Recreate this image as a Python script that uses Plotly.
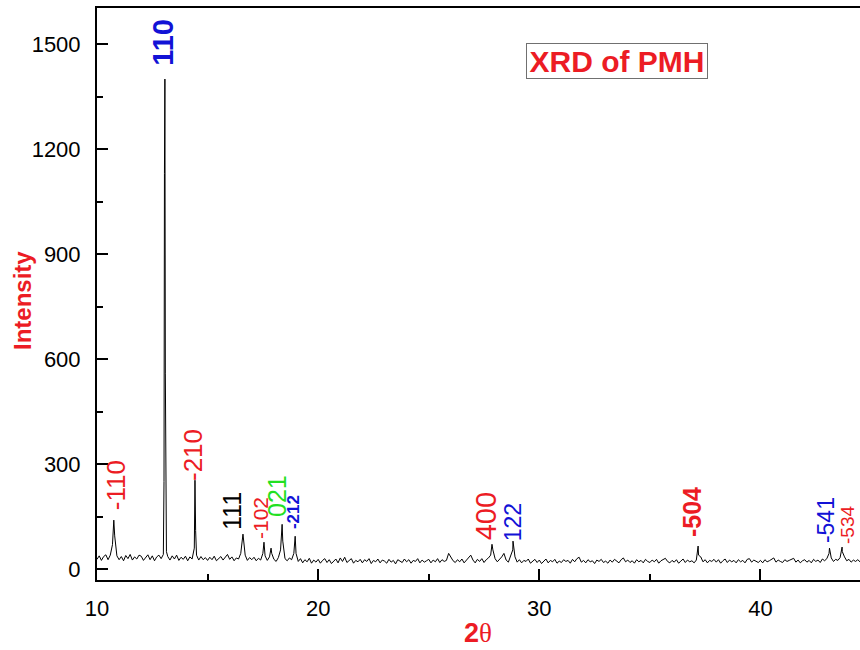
import numpy as np
import plotly.graph_objects as go

# ---------------- data ----------------
# regular scan grid 10.0 .. 44.5 (step 0.1) and hand-read counts
grid_start, grid_stop, grid_step = 10.0, 44.5, 0.1
grid_counts = [
    28, 38, 25, 36, 41, 27, 40, 70, 95, 38,   # 10.x
    27, 36, 24, 39, 30, 42, 26, 35, 29, 40,   # 11.x
    37, 25, 33, 41, 27, 38, 24, 35, 40, 30,   # 12.x
    42, 250, 36, 26, 38, 29, 40, 25, 34, 28,  # 13.x
    37, 24, 35, 29, 60, 40, 26, 36, 27, 33,   # 14.x
    25, 34, 27, 37, 24, 31, 36, 26, 33, 42,   # 15.x
    28, 35, 24, 32, 29, 45, 100, 40, 25, 33,  # 16.x
    27, 34, 24, 31, 26, 45, 38, 25, 35, 45,   # 17.x
    28, 22, 33, 55, 80, 30, 24, 32, 27, 45,   # 18.x
    45, 22, 30, 18, 27, 21, 31, 17, 26, 20,   # 19.x
    28, 17, 25, 30, 19, 27, 16, 24, 29, 18,   # 20.x
    32, 22, 34, 19, 26, 30, 17, 25, 21, 28,   # 21.x
    18, 27, 22, 30, 16, 25, 21, 29, 18, 26,   # 22.x
    23, 17, 28, 20, 25, 15, 27, 22, 19, 29,   # 23.x
    21, 27, 17, 25, 22, 30, 18, 26, 20, 24,   # 24.x
    28, 18, 26, 21, 30, 19, 27, 22, 25, 45,   # 25.x
    33, 24, 19, 27, 21, 29, 18, 25, 30, 40,   # 26.x
    26, 18, 28, 22, 30, 19, 27, 32, 40, 55,   # 27.x
    30, 21, 27, 35, 45, 26, 20, 35, 55, 35,   # 28.x
    20, 27, 18, 25, 22, 29, 17, 24, 28, 19,   # 29.x
    26, 16, 24, 29, 18, 25, 21, 28, 17, 23,   # 30.x
    19, 27, 22, 25, 17, 28, 21, 30, 34, 20,   # 31.x
    25, 18, 27, 21, 24, 16, 26, 22, 28, 19,   # 32.x
    23, 17, 26, 20, 28, 22, 18, 27, 32, 21,   # 33.x
    26, 19, 24, 17, 27, 21, 25, 18, 28, 22,   # 34.x
    19, 26, 21, 28, 17, 24, 27, 31, 22, 18,   # 35.x
    25, 20, 27, 17, 23, 29, 19, 26, 21, 24,   # 36.x
    18, 26, 40, 35, 21, 27, 18, 25, 22, 28,   # 37.x
    20, 27, 17, 24, 29, 19, 26, 21, 25, 18,   # 38.x
    27, 21, 25, 18, 28, 30, 20, 26, 22, 19,   # 39.x
    25, 18, 27, 21, 24, 29, 32, 20, 26, 22,   # 40.x
    19, 27, 22, 25, 28, 31, 20, 26, 18, 24,   # 41.x
    27, 20, 25, 18, 28, 22, 26, 19, 29, 24,   # 42.x
    30, 45, 32, 22, 28, 25, 33, 50, 35, 24,   # 43.x
    28, 20, 26, 22, 27, 21,                   # 44.0 - 44.5
]

# extra points measured on the sharp reflections
peak_theta = [10.76, 13.03, 13.05, 13.07, 13.09, 13.14, 14.41, 14.43, 14.46,
              17.55, 17.87, 18.37, 18.96, 27.86, 28.81, 37.18, 43.12, 43.69]
peak_counts = [140, 250, 1130, 1400, 560, 50, 160, 254, 110,
               77, 60, 128, 94, 71, 80, 66, 60, 63]

# reflection labels
label_text = ["-110", "110", "-210", "111", "-102", "021", "-212",
              "400", "122", "-504", "-541", "-534"]
label_color = ["red", "blue", "red", "black", "red", "green", "blue",
               "red", "blue", "red", "blue", "red"]
label_bold = [False, True, False, False, False, False, True,
              False, False, True, False, False]
label_size = [26, 29, 26, 25, 21, 25, 17, 29, 23, 25, 23, 19]
label_theta = [10.86, 12.98, 14.34, 16.10, 17.37, 18.14, 18.86,
               27.59, 28.81, 36.90, 42.96, 43.91]
label_y = [240, 1506, 326, 166, 146, 209, 163, 151, 134, 163, 140, 126]

x_ticks = [10, 20, 30, 40]
y_ticks = [0, 300, 600, 900, 1200, 1500]

# ---------------- build series ----------------
n = len(grid_counts)
grid_theta = np.round(grid_start + grid_step * np.arange(n), 2)
theta = np.concatenate([grid_theta, np.array(peak_theta)])
counts = np.concatenate([np.array(grid_counts, float), np.array(peak_counts, float)])
order = np.argsort(theta, kind="stable")
theta, counts = theta[order], counts[order]

colors = {"red": "#EC1C24", "blue": "#1212D6", "green": "#22E022", "black": "#000000"}
FONT = "Liberation Sans, Arial, sans-serif"

fig = go.Figure()
fig.add_trace(go.Scatter(x=theta, y=counts, mode="lines",
                         line=dict(color="black", width=1), showlegend=False,
                         hoverinfo="skip"))

# plot area in pixels
L, R, T, B = 97, 860, 8, 580
W, H = 860, 650


def px(xp):
    return (xp - L) / (R - L)


def py(yp):
    return (B - yp) / (B - T)


annotations = []
for t, c, b, s, xv, yv in zip(label_text, label_color, label_bold, label_size,
                              label_theta, label_y):
    txt = f"<b>{t}</b>" if b else t
    annotations.append(dict(x=xv, y=yv, xref="x", yref="y", text=txt,
                            showarrow=False, textangle=-90,
                            xanchor="center", yanchor="middle",
                            font=dict(family=FONT, size=s, color=colors[c])))

# title box
annotations.append(dict(x=px(617), y=py(61), xref="paper", yref="paper",
                        text="<b>XRD of PMH</b>", showarrow=False,
                        xanchor="center", yanchor="middle",
                        width=180, height=34, borderpad=0,
                        bordercolor="#707070", borderwidth=1, bgcolor="white",
                        font=dict(family=FONT, size=30, color=colors["red"])))
# axis titles
annotations.append(dict(x=px(22), y=py(301), xref="paper", yref="paper",
                        text="<b>Intensity</b>", showarrow=False, textangle=-90,
                        xanchor="center", yanchor="middle",
                        font=dict(family=FONT, size=24, color=colors["red"])))
annotations.append(dict(x=px(478), y=py(633), xref="paper", yref="paper",
                        text="<b>2</b><span style='font-family:Liberation Serif'>θ</span>",
                        showarrow=False, xanchor="center", yanchor="middle",
                        font=dict(family=FONT, size=27, color=colors["red"])))

fig.update_layout(
    width=W, height=H,
    margin=dict(l=L, r=W - R, t=T, b=H - B, pad=0),
    paper_bgcolor="white", plot_bgcolor="white",
    annotations=annotations,
    xaxis=dict(range=[10, 44.5], tickvals=x_ticks, ticktext=[str(v) for v in x_ticks],
               ticks="inside", ticklen=11, tickwidth=1.5, tickcolor="black",
               minor=dict(dtick=5, tick0=10, ticks="inside", ticklen=6,
                          tickwidth=1.5, tickcolor="black"),
               showline=True, linewidth=2, linecolor="black", mirror=True,
               showgrid=False, zeroline=False, ticklabelstandoff=8,
               tickfont=dict(family=FONT, size=22, color="black")),
    yaxis=dict(range=[-31, 1603], tickvals=y_ticks, ticktext=[str(v) for v in y_ticks],
               ticks="inside", ticklen=11, tickwidth=1.5, tickcolor="black",
               minor=dict(dtick=150, tick0=0, ticks="inside", ticklen=6,
                          tickwidth=1.5, tickcolor="black"),
               showline=True, linewidth=2, linecolor="black", mirror=False,
               showgrid=False, zeroline=False, ticklabelstandoff=10,
               tickfont=dict(family=FONT, size=22, color="black")),
)

fig.write_html("out.html")
